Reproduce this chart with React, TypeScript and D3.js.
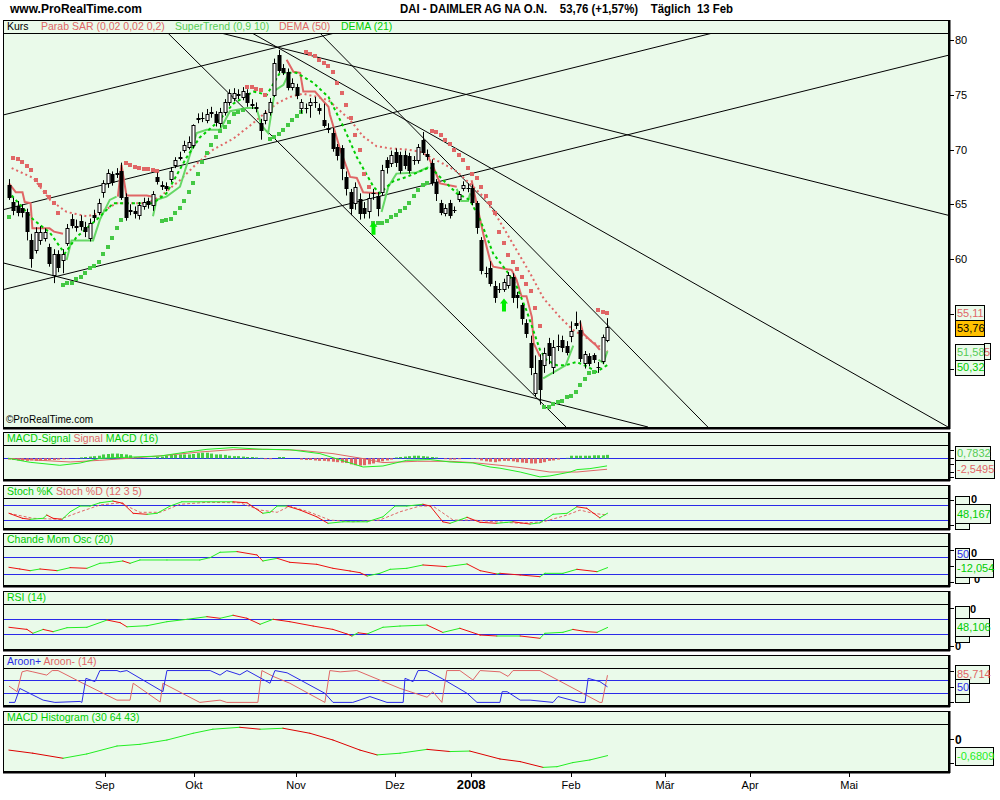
import React from "react";
import * as d3 from "d3";

// ---------------- DATA ----------------
const opens = [
  66.8,65.2,64.8,64.7,64.3,61.7,60.8,61.7,61.9,61.1,
  58.5,60.5,59.9,61.5,63.7,62.9,63.5,62.9,61.9,64.0,
  64.3,66.1,66.9,67.8,67.9,68.0,65.7,64.4,64.4,64.0,
  64.8,65.3,64.9,67.5,66.8,66.7,67.3,68.6,69.2,70.0,
  70.2,70.4,72.8,72.9,72.7,73.3,73.2,72.4,73.4,74.3,
  74.7,75.0,74.8,75.2,74.2,73.8,72.4,72.7,73.4,75.0,
  78.6,77.4,77.1,75.7,75.7,73.8,73.8,74.1,74.3,73.8,
  72.7,71.9,71.5,70.2,70.1,67.5,66.1,65.1,65.5,64.7,
  64.4,66.0,65.8,66.1,69.0,68.8,69.8,69.5,69.5,69.4,
  69.0,69.0,70.9,69.6,68.8,67.0,65.1,64.2,65.1,64.5,
  65.5,66.5,66.5,66.5,65.1,61.7,58.7,59.2,57.5,57.3,
  57.3,57.6,58.4,56.7,55.8,54.2,52.3,47.8,50.8,50.3,
  52.3,50.1,52.1,52.6,52.1,53.0,54.2,53.5,50.5,51.1,
  51.2,50.1,50.7,52.6,
];
const closes = [
  65.7,64.5,64.3,64.3,62.6,60.1,62.5,62.5,62.5,59.6,
  60.5,59.3,60.5,62.8,63.1,63.0,63.0,62.6,63.3,63.8,
  65.1,66.9,67.9,67.0,67.8,65.7,63.8,64.5,64.2,64.9,
  65.2,65.0,65.9,67.1,66.7,66.5,68.0,69.0,69.3,70.4,
  70.7,72.2,72.9,72.9,73.2,73.4,72.5,73.4,74.3,75.2,
  75.2,75.1,75.3,74.3,74.1,73.9,71.8,73.3,74.3,77.9,
  77.3,77.1,75.7,76.1,75.0,74.3,73.8,74.3,74.3,73.6,
  72.2,72.0,70.1,69.5,68.3,66.5,64.7,66.6,64.2,64.2,
  65.6,66.0,64.7,68.1,68.4,69.5,68.9,68.1,68.6,68.1,
  69.0,70.2,69.8,69.4,67.0,66.0,64.3,64.7,64.0,64.5,
  65.9,66.8,66.5,65.2,62.9,59.0,58.7,57.8,56.5,57.3,
  57.9,58.5,56.5,56.5,54.6,53.2,50.1,49.6,48.1,51.4,
  51.2,52.0,52.1,52.0,51.5,53.4,54.0,51.0,51.3,50.5,
  50.9,50.1,52.9,53.76,
];
const highs = [
  67.3,65.6,65.3,65.0,64.6,62.3,62.9,63.0,62.8,61.4,
  60.9,60.8,60.9,63.2,64.1,63.6,64.0,63.4,63.7,64.5,
  65.5,67.2,68.2,68.0,68.3,68.8,66.0,65.0,64.8,65.2,
  65.6,65.6,66.2,67.9,67.1,67.0,68.4,69.3,69.8,70.8,
  71.2,72.3,73.3,73.4,73.7,73.9,73.5,73.8,74.6,75.5,
  75.6,75.5,75.7,75.5,74.6,74.3,72.8,73.6,74.7,78.3,
  79.1,77.8,77.4,76.5,76.0,74.6,74.2,74.7,74.8,74.2,
  74.2,72.4,72.0,70.5,70.4,68.0,66.4,67.0,66.0,65.2,
  66.0,66.4,66.1,68.6,69.3,69.9,70.1,69.8,69.9,69.7,
  69.4,70.5,71.6,70.0,69.1,67.3,65.4,65.0,65.4,64.8,
  66.2,67.1,66.9,66.8,65.3,62.0,59.3,59.8,58.0,57.8,
  58.2,58.8,58.7,57.0,56.0,54.5,53.0,51.2,51.3,51.9,
  52.8,52.6,53.1,53.0,52.5,54.3,55.2,54.4,51.6,51.4,
  51.4,50.6,53.1,54.6,
];
const lows = [
  65.4,64.0,63.9,63.8,61.7,59.2,60.5,61.3,61.6,59.3,
  57.8,58.8,58.7,61.2,62.8,62.5,62.6,62.0,61.6,63.4,
  64.0,65.6,66.5,66.7,67.4,65.4,63.5,64.0,63.7,63.6,
  64.5,64.6,64.4,66.8,66.3,66.2,67.0,68.3,69.0,69.7,
  70.0,70.1,72.4,72.5,72.4,72.9,72.1,72.0,73.1,74.0,
  74.4,74.6,74.5,73.9,73.7,73.4,70.9,72.3,73.1,74.8,
  77.0,76.8,75.4,75.4,74.6,73.3,73.3,72.9,73.8,73.2,
  72.0,71.5,69.8,69.0,67.2,65.8,64.0,64.5,63.6,63.7,
  63.7,65.4,63.9,65.8,67.8,68.4,68.4,67.8,68.2,67.8,
  68.6,68.7,69.5,69.0,66.7,65.3,64.0,63.9,63.7,64.2,
  65.2,66.2,66.1,64.9,62.3,58.6,58.3,57.5,56.0,56.9,
  57.0,57.3,56.0,55.5,54.0,52.8,49.4,47.4,46.7,49.6,
  50.4,49.5,51.6,51.5,51.2,52.4,53.6,50.6,50.0,50.2,
  50.5,49.6,50.4,52.4,
];
const sar = [
  63.8,69.2,69.1,68.9,68.5,68.1,67.2,66.8,66.1,65.7,
  65.1,64.2,57.6,57.8,57.8,58.2,58.4,58.7,59.2,59.4,
  59.7,60.5,61.1,61.9,62.8,63.6,68.8,68.6,68.4,68.3,
  68.2,68.2,68.1,68.0,63.5,63.6,63.7,64.2,64.7,65.3,
  66.1,66.9,67.8,68.9,69.7,70.4,71.1,71.7,72.1,72.5,
  73.2,73.4,73.6,75.7,75.7,75.5,75.4,75.0,71.0,71.1,
  71.4,71.8,72.2,72.7,73.1,73.4,78.9,78.7,78.5,78.2,
  77.9,77.6,77.1,76.1,75.2,74.1,72.9,71.3,70.0,67.8,
  66.6,63.3,63.3,63.3,63.5,63.8,64.0,64.4,64.7,65.1,
  65.8,66.3,66.8,66.9,71.7,71.6,71.3,70.9,70.5,70.0,
  69.5,69.0,68.3,67.8,67.4,66.6,65.8,65.1,64.2,62.5,
  61.5,60.4,59.7,59.1,58.4,57.7,57.1,55.5,53.9,46.5,
  46.5,46.8,46.9,47.0,47.4,47.5,47.9,48.5,49.0,49.6,
  49.7,55.3,55.2,55.1,
];
const dema50: [number, number][] = [
  [0.6,68.3],[5.4,67.4],[9.1,65.4],[12.8,64.3],[17.3,63.9],[20.2,64.2],[23.9,65.1],[27.6,65.1],
  [30.6,65.1],[33.6,65.7],[38,67.2],[41.7,68.7],[45.4,70.0],[49.9,71.0],[53.6,72.2],[56.5,73.2],
  [59.5,74.2],[62.4,74.8],[65.4,75.1],[68.4,74.8],[71,74.5],[75.8,72.7],[78.7,71.2],[81.7,70.3],
  [84.7,70.1],[88.4,70.0],[91.3,69.8],[93.6,69.3],[96.5,68.7],[99.5,68.0],[102.4,66.9],[105.4,65.7],
  [108.4,63.9],[112.1,61.3],[115.8,58.7],[118.8,56.4],[122.4,54.7],[125.4,53.5],[128.4,52.8],
  [131.3,52.0],[133,51.55],
];
const dema21: [number, number][] = [
  [0.6,65.8],[5.4,63.6],[9.1,62.4],[12.4,60.5],[15,62.0],[19.5,63.6],[23.2,65.1],[27.6,65.1],
  [32,65.1],[35,66.0],[39.5,69.3],[42.4,71.1],[46.1,72.4],[49.9,74.2],[54.3,75.3],[57.3,75.0],
  [60.2,77.0],[63.9,77.0],[67.6,76.1],[71,74.8],[74.3,72.1],[77.3,69.3],[81,66.6],[82.4,66.0],
  [85.4,67.1],[88.4,67.5],[91.3,68.0],[93.6,68.4],[96.5,67.2],[99.5,66.0],[102.4,65.4],[104.7,63.6],
  [107.6,60.5],[110.6,58.9],[112.8,57.5],[115,55.3],[116.5,53.5],[118,51.7],[119.4,50.8],
  [121.7,50.3],[123.7,50.3],[126.1,50.6],[128.4,50.2],[130.6,49.7],[133,50.32],
];
const superTrendRed: [number, number][][] = [
  [[0,66.9],[1.5,66.1],[3,66.1],[3.5,65.2],[4.8,65.1],[5.2,62.8],[9,62.8],[10,62.5],[12,62.3]],
  [[24.2,65.7],[25,68.6],[26.1,65.8],[30.6,65.8],[31.7,65.7]],
  [[61.7,78.2],[63.2,77.1],[64.7,77.0],[65.4,75.3],[68,75.3],[69.9,74.4],[71,73.9],[71.3,73.2],
   [73.6,70.0],[75.8,67.5],[77.3,67.4],[78.7,66.1],[81.7,66.0],[82.4,66.0]],
  [[92.8,69.6],[94.3,68.4],[95.8,66.9],[99.5,66.6]],
  [[102.8,67.2],[103.9,65.1],[105.4,62.3],[106.9,59.9],[107.6,59.3],[111.7,59.0],[112.8,58.1],
   [113.9,56.6],[115,56.6],[116.2,54.7],[116.6,52.3],[117.3,51.7],[118,51.1]],
  [[126.9,54.3],[127.6,53.2],[129.1,52.6],[130.5,52.1],[131.3,51.7]],
];
const superTrendGreen: [number, number][][] = [
  [[12.8,59.9],[13.9,61.7],[18.7,61.7],[20.2,63.6],[22.4,65.4],[23.9,65.7]],
  [[32,63.9],[32.8,65.4],[35,65.7],[38,66.6],[41.7,71.5],[43.9,71.8],[46.9,71.8],[49.1,73.5],
   [52.8,73.8],[55,73.8],[56.1,72.2],[57.6,71.5],[59.1,75.4],[61,75.9],[62,76.8]],
  [[82.8,64.3],[84.3,66.6],[86.1,67.8],[90.6,67.9],[93.2,68.4]],
  [[99.5,66.4],[100.5,65.3],[102,65.3],[102.5,66.0]],
  [[118.7,49.1],[120.8,49.6],[123.7,50.3],[125.4,52.1]],
  [[131,50.8],[132.1,50.5],[133,51.58]],
];
const buyArrows: [number, number][] = [[81, 63.4], [110, 56.4]];
// trend lines: [index1, price1, index2, price2]
const trendLines: [number, number, number, number][] = [
  [-1.33,73.15,72.4,80.64],
  [-1.33,64.5,156.4,80.64],
  [-1.33,57.2,208.67,78.6],
  [47.1,80.64,208.67,64.0],
  [54.0,80.64,208.67,44.66],
  [35.3,80.64,123.8,44.66],
  [69.1,80.64,155.3,44.66],
  [-1.33,59.65,142.0,44.66],
];
const priceTicks = [80, 75, 70, 65, 60, 55, 50];

const macdLine: [number, number][] = [
  [-0.2,0],[4.7,-0.93],[11.3,-1.63],[15.8,-1.1],[20.2,0],[27.6,0.3],[33.6,0.53],[39.6,1.47],
  [44,2.09],[49.8,2.49],[56.4,2.09],[62.4,2.0],[69.1,1.09],[75.1,-0.86],[78.7,-2.02],[83.1,-1.79],
  [88.4,-0.47],[93.6,-0.3],[98,-0.86],[103.1,-1.09],[106.9,-2.02],[109.1,-2.3],[113.6,-3.19],
  [118,-4.33],[120.2,-4.1],[124.7,-3.19],[126.2,-2.63],[129.1,-2.4],[132.9,-1.77],
];
const macdSignal: [number, number][] = [
  [-0.2,0],[6.9,-0.47],[13.6,-0.86],[20.2,-0.47],[27.6,0.07],[35.1,0.7],[42.4,1.47],[49.8,2.02],
  [57.3,2.09],[64.7,1.86],[72,1.09],[78.7,-0.07],[83.1,-1.0],[90.7,-0.7],[98,-0.7],[103.1,-1.0],
  [109.1,-1.63],[113.6,-2.16],[120.2,-3.19],[126.2,-3.19],[132.9,-2.55],
];
const macdBars = [
  -0.3,-0.4,-0.5,-0.6,-0.6,-0.5,-0.6,-0.6,-0.5,-0.4,-0.4,-0.3,-0.2,
  -0.1,0,0.05,
  0.2,0.3,0.4,0.5,0.6,0.9,1.0,1.1,1.1,1.0,0.9,0.7,0.3,
  0.1,0.05,0.05,0.1,
  0.3,0.4,0.6,0.8,0.8,0.9,0.9,0.9,1.0,1.2,1.3,1.3,1.1,0.9,0.9,0.8,0.6,0.5,0.5,0.4,0.3,0.3,0.2,0.1,
  -0.2,-0.2,0,0.3,0.3,0,0,0,
  -0.3,-0.4,-0.4,-0.5,-0.6,-0.6,-0.7,-0.8,-0.9,-1.0,-1.1,-1.4,-1.6,-1.7,-1.6,-1.4,-1.2,-0.9,-0.7,-0.5,-0.3,
  0.2,0.3,0.4,0.5,0.6,0.6,0.5,0.4,0.3,0.2,
  0,-0.2,-0.3,-0.3,-0.2,0,0,-0.1,-0.2,
  -0.5,-0.7,-0.8,-0.9,-0.7,-0.6,-0.6,-0.7,-0.9,-1.0,-1.1,-1.2,-1.2,-1.1,-0.9,-0.6,-0.5,-0.3,
  0,0.1,
  0.6,0.6,0.6,0.6,0.6,0.7,0.7,0.7,0.8,
];
const stochK: [number, number][] = [
  [0,48],[3,28],[4.7,24],[7.6,28],[8.4,41],[9.8,28],[11.8,24],[13.6,54],[15.8,77],[18,77],[20.2,90],
  [23.1,97],[25.3,88],[27.6,48],[30.7,44],[32.9,48],[35.8,77],[38.4,94],[49.8,94],[52.9,90],[56.4,48],
  [58,52],[59.6,77],[61.8,77],[64.7,61],[68.4,34],[70.9,8],[74.2,14],[79.6,14],[83.1,34],[85.8,77],
  [88.4,77],[92,84],[93.6,77],[96.4,14],[98,8],[101.8,32],[104.7,12],[108.4,8],[112,14],[115.8,5],
  [118,10],[120.9,44],[124,48],[126.2,74],[128.4,68],[131.3,30],[133,48.17],
];
const stochD: [number, number][] = [
  [0,48],[5.3,28],[11.3,24],[15.8,54],[20.2,81],[24.7,90],[29.1,52],[33.6,52],[38,84],[44,92],
  [51.3,90],[55.8,61],[59.6,52],[62.4,77],[66.9,52],[71.3,21],[76.4,14],[82.4,21],[86.9,54],
  [91.3,77],[94.2,77],[98.7,21],[103.1,21],[108.4,14],[113.6,8],[118.7,14],[124,41],[126.9,61],
  [129.8,48],[133,41],
];
const chande: [number, number][] = [
  [0,-10],[2.4,-20],[4.7,-30],[6.9,-20],[10.7,-30],[13.6,-12],[17.3,-16],[20.2,14],[22.4,18],
  [25.3,28],[26.9,14],[29.1,34],[35.1,34],[42.4,34],[44.7,48],[46.9,80],[50.7,84],[55.1,64],
  [56.4,28],[59.6,44],[62.4,20],[68.4,8],[72,-16],[75.8,-32],[78,-42],[79.6,-62],[82.4,-46],
  [84.7,-22],[88.4,-16],[92,4],[97.3,-6],[101.8,10],[104.7,-30],[108.4,-50],[109.1,-46],
  [113.6,-56],[118,-66],[119.1,-46],[123.1,-46],[126.2,-22],[130.7,-36],[133,-12.05],
];
const rsi: [number, number][] = [
  [0,48.7],[4,43],[5.3,32.7],[7.6,43],[9.8,37],[12.9,47.6],[17.3,48.7],[21.8,68],[24.7,61],
  [26.2,50],[30.7,53],[35.1,63.6],[39.6,70],[44,77],[46.9,72.7],[49.8,80.7],[52.9,72.7],[55.8,56.7],
  [58.7,70],[62.4,63.6],[67.6,52],[72,43],[75.1,31],[76.2,25.5],[77.6,34],[79.6,31],[83.1,48.7],
  [86.9,52],[92.9,54.7],[96.4,35],[100.2,46],[104.7,28],[108.4,25.5],[113.6,25.5],[118,19.3],
  [119.1,32.7],[123.1,35.3],[125.3,43],[128.4,37],[130.7,35.3],[133,48.1],
];
const aroonUp: [number, number][] = [
  [0,2],[1.3,2],[2.4,45],[7.6,9],[10.2,2],[15.8,5],[16.2,2],[17.1,76],[19.1,66],[20.2,100],[24,100],
  [24.7,96],[26.2,100],[34.2,35],[35.1,100],[44.7,100],[46.9,86],[48.4,100],[51.3,87],[52.9,100],
  [58,61],[59.1,100],[61.8,93],[70.2,30],[72,2],[76.4,2],[80.2,20],[84,2],[87.6,2],[88,76],[89.8,66],
  [90.9,100],[92.9,100],[96.4,74],[101.8,30],[104,2],[109.1,2],[109.6,35],[110.7,35],[113.6,9],
  [115.8,9],[120.9,2],[122,20],[126.9,2],[128,2],[128.7,76],[131.3,66],[133,50],
];
const aroonDown: [number, number][] = [
  [0,52],[1.8,35],[2.9,96],[4,100],[5.3,96],[8.4,86],[9.6,100],[10.9,100],[16.4,61],[20.2,35],
  [24,9],[26.9,9],[27.6,61],[33.6,3],[34.2,61],[42.4,2],[46.9,9],[48.4,2],[55.3,2],[56.2,100],
  [58.7,82],[62.4,61],[70.2,2],[71.3,100],[73.6,96],[77.3,100],[86.9,45],[92.9,18],[94.2,35],
  [96.2,2],[97.3,100],[100.2,100],[103.1,71],[104.7,100],[109.1,96],[110.9,82],[112,100],[118,100],
  [131.3,2],[131.8,2],[133,85.71],
];
const macdHistLong: [number, number][] = [
  [0,-0.45],[5.3,-0.58],[12,-0.79],[17.3,-0.61],[24,-0.28],[29.1,-0.21],[35.1,-0.03],[40.9,0.25],
  [45.3,0.42],[51.3,0.5],[55.8,0.42],[60.9,0.46],[66.9,0.25],[72,-0.03],[78,-0.45],[81.8,-0.65],
  [86.9,-0.58],[92.9,-0.42],[98,-0.51],[102.4,-0.49],[109.1,-0.82],[113.6,-0.93],[118.7,-1.17],
  [121.8,-1.14],[125.3,-0.97],[129.1,-0.86],[133,-0.68],
];
const monthLabels = ["Sep", "Okt", "Nov", "Dez", "2008", "Feb", "Mär", "Apr", "Mai"];
const monthIdx = [21.3, 41.1, 63.8, 85.8, 102.7, 124.9, 145.8, 164.7, 186.7];

// ---------------- LAYOUT ----------------
const XL = 3, XR = 948;
const BG = "#eafaea";
const RED = "#e06666";
const LGREEN = "#55cc55";
const GREEN = "#00cc00";
const BRIGHT_G = "#22ee22";
const BRIGHT_R = "#ee1111";
const BLUE = "#2a2ae8";
const FONT = "Liberation Sans, Arial, Helvetica, sans-serif";

const P = {
  main: { top: 20, hdr: 33, bottom: 427 },
  macd: { top: 432, hdr: 445, bottom: 479 },
  stoch: { top: 485, hdr: 498, bottom: 528 },
  chande: { top: 533, hdr: 546, bottom: 585 },
  rsi: { top: 591, hdr: 604, bottom: 649 },
  aroon: { top: 655, hdr: 668, bottom: 705 },
  mhist: { top: 711, hdr: 724, bottom: 771 },
};

const x = d3.scaleLinear().domain([-1.33, 208.67]).range([XL, XR]);
const yMain = d3.scaleLinear().domain([44.66, 80.64]).range([427, 33]);
const yMacd = d3.scaleLinear().domain([0, 1]).range([458.3, 454]);
const yStoch = d3.scaleLinear().domain([20, 80]).range([520.3, 505.3]);
const yChande = d3.scaleLinear().domain([-50, 50]).range([574, 557.3]);
const yRsi = d3.scaleLinear().domain([30, 70]).range([634.3, 619.3]);
const yAroon = d3.scaleLinear().domain([30, 70]).range([693.3, 680.3]);
const yMhist = d3.scaleLinear().domain([0, -1]).range([739.3, 763.3]);

type Pt = [number, number];

function Frame({ p, id }: { p: { top: number; hdr: number; bottom: number }; id: string }) {
  return (
    <g>
      <rect x={XL + 0.5} y={p.top + 0.5} width={XR - XL} height={p.bottom - p.top} fill={BG} stroke="#000" strokeWidth={1} />
      <line x1={XL} x2={XR} y1={p.hdr + 0.5} y2={p.hdr + 0.5} stroke="#000" strokeWidth={1} />
      <line x1={XL} x2={XR + 2} y1={p.bottom + 1.5} y2={p.bottom + 1.5} stroke="#000" strokeWidth={2} />
      <line x1={XR + 1.5} x2={XR + 1.5} y1={p.top} y2={p.bottom + 2} stroke="#000" strokeWidth={2} />
      <clipPath id={id}>
        <rect x={XL + 1} y={p.hdr + 1} width={XR - XL - 1} height={p.bottom - p.hdr - 1} />
      </clipPath>
    </g>
  );
}

function PolyLine({ pts, y, color, width = 1, dash }: { pts: Pt[]; y: any; color: string; width?: number; dash?: string }) {
  const gen = d3.line<Pt>().x((d) => x(d[0])).y((d) => y(d[1]));
  return <path d={gen(pts) || ""} fill="none" stroke={color} strokeWidth={width} strokeDasharray={dash} />;
}

function DirLine({ pts, y, up, down, width = 1 }: { pts: Pt[]; y: any; up: string; down: string; width?: number }) {
  const segs = [];
  for (let k = 0; k < pts.length - 1; k++) {
    const a = pts[k], b = pts[k + 1];
    segs.push(
      <line key={k} x1={x(a[0])} y1={y(a[1])} x2={x(b[0])} y2={y(b[1])} stroke={b[1] >= a[1] ? up : down} strokeWidth={width} strokeLinecap="square" />
    );
  }
  return <g>{segs}</g>;
}

function ValBox({ yc, text, color, bg = BG, x0 = 955, w, h = 16, size = 11 }: { yc: number; text: string; color: string; bg?: string; x0?: number; w?: number; h?: number; size?: number }) {
  const ww = w ?? text.length * 5.6 + 5;
  return (
    <g>
      <rect x={x0 + 0.5} y={Math.round(yc - h / 2) + 0.5} width={ww} height={h} fill={bg} stroke="#000" strokeWidth={1} />
      {text ? <text x={x0 + 2} y={yc + 4} fontSize={size} fill={color} fontFamily={FONT}>{text}</text> : null}
    </g>
  );
}

function Tick({ yv }: { yv: number }) {
  return <line x1={XR + 2} x2={XR + 6} y1={Math.round(yv) + 0.5} y2={Math.round(yv) + 0.5} stroke="#000" />;
}

export default function App() {
  return (
    <svg width={1000} height={800} style={{ position: "absolute", left: 0, top: 0, background: "#fff" }} fontFamily={FONT}>
      {/* page titles */}
      <text x={10} y={13} fontSize={12} fontWeight="bold" fill="#000">www.ProRealTime.com</text>
      <text x={400} y={13} fontSize={12} fontWeight="bold" fill="#000" style={{ whiteSpace: "pre" }} textLength={333} lengthAdjust="spacingAndGlyphs">
        {"DAI - DAIMLER AG NA O.N.    53,76 (+1,57%)    Täglich  13 Feb"}
      </text>

      {/* ---------- MAIN PANEL ---------- */}
      <Frame p={P.main} id="clipMain" />
      <text x={7} y={30} fontSize={10.5} fill="#000">Kurs</text>
      <text x={41} y={30} fontSize={10.5} fill={RED}>Parab SAR (0,02 0,02 0,2)</text>
      <text x={175} y={30} fontSize={10.5} fill={LGREEN}>SuperTrend (0,9 10)</text>
      <text x={279} y={30} fontSize={10.5} fill={RED}>DEMA (50)</text>
      <text x={341} y={30} fontSize={10.5} fill={GREEN}>DEMA (21)</text>

      <g clipPath="url(#clipMain)">
        {trendLines.map((t, k) => (
          <line key={k} x1={x(t[0])} y1={yMain(t[1])} x2={x(t[2])} y2={yMain(t[3])} stroke="#000" strokeWidth={1} />
        ))}
        <PolyLine pts={dema50} y={yMain} color={RED} width={2} dash="2,3" />
        {superTrendRed.map((s, k) => <PolyLine key={"r" + k} pts={s} y={yMain} color={RED} width={2} />)}
        {superTrendGreen.map((s, k) => <PolyLine key={"g" + k} pts={s} y={yMain} color="#66d866" width={2} />)}
        <PolyLine pts={dema21} y={yMain} color={GREEN} width={2} dash="3,3" />
        {sar.map((s, i) => (
          <rect key={"s" + i} x={Math.round(x(i)) - 2} y={Math.round(yMain(s)) - 2} width={4} height={4} fill={s > closes[i] ? RED : "#44c844"} />
        ))}
        {closes.map((c, i) => {
          const o = opens[i];
          const cx = Math.round(x(i)) + 0.5;
          const yt = Math.round(yMain(Math.max(o, c)));
          const yb = Math.round(yMain(Math.min(o, c)));
          return (
            <g key={"c" + i}>
              <line x1={cx} x2={cx} y1={yMain(highs[i])} y2={yMain(lows[i])} stroke="#000" strokeWidth={1} />
              <rect x={cx - 1.5} y={yt + 0.5} width={3} height={Math.max(0.01, yb - yt)} fill={c >= o ? "#fff" : "#000"} stroke="#000" strokeWidth={1} />
            </g>
          );
        })}
        {buyArrows.map((a, k) => {
          const cx = x(a[0]);
          const ty = yMain(a[1]);
          return (
            <path key={"a" + k} d={`M${cx},${ty} L${cx + 4},${ty + 5} L${cx + 2},${ty + 5} L${cx + 2},${ty + 13} L${cx - 2},${ty + 13} L${cx - 2},${ty + 5} L${cx - 4},${ty + 5} Z`} fill="#00ee00" />
          );
        })}
      </g>
      <text x={6} y={423} fontSize={10} fill="#000">©ProRealTime.com</text>

      {/* main axis */}
      {priceTicks.map((t) => (
        <g key={"pt" + t}>
          <Tick yv={yMain(t)} />
          {t >= 60 ? <text x={955} y={yMain(t) + 4} fontSize={11} fill="#000">{t}</text> : null}
        </g>
      ))}
      <ValBox yc={312.6} text="55,11" color={RED} w={29} h={15} />
      <ValBox yc={327.8} text="53,76" color="#000" bg="#ffc000" w={29} h={16} />
      <rect x={984.5} y={343.5} width={6} height={16} fill={BG} stroke="#000" />
      <text x={984} y={356} fontSize={11} fill={RED}>5</text>
      <ValBox yc={351.5} text="51,58" color={LGREEN} w={29} h={16} />
      <ValBox yc={367} text="50,32" color={GREEN} w={29} h={15} />

      {/* ---------- MACD ---------- */}
      <Frame p={P.macd} id="clipMacd" />
      <text x={7} y={442} fontSize={10.5}>
        <tspan fill={GREEN}>MACD-Signal </tspan>
        <tspan fill={RED}>Signal </tspan>
        <tspan fill={GREEN}>MACD (16)</tspan>
      </text>
      <g clipPath="url(#clipMacd)">
        <line x1={XL} x2={XR} y1={458.5} y2={458.5} stroke={BLUE} />
        {macdBars.map((v, i) =>
          v === 0 ? null : (
            <rect key={i} x={Math.round(x(i)) - 1} width={3} y={Math.min(yMacd(v), yMacd(0))} height={Math.abs(yMacd(v) - yMacd(0))} fill={v > 0 ? "#44cc44" : RED} />
          )
        )}
        <PolyLine pts={macdSignal} y={yMacd} color={RED} width={1} />
        <PolyLine pts={macdLine} y={yMacd} color={BRIGHT_G} width={1} />
      </g>
      {[450, 458, 464, 472, 477].map((t) => <Tick key={t} yv={t} />)}
      <ValBox yc={468.5} text="-2,5495" color={RED} w={39} h={18} />
      <ValBox yc={452.5} text="0,7832" color={LGREEN} w={35} h={14} />

      {/* ---------- STOCH ---------- */}
      <Frame p={P.stoch} id="clipStoch" />
      <text x={7} y={495} fontSize={10.5}>
        <tspan fill={GREEN}>Stoch %K </tspan>
        <tspan fill={RED}>Stoch %D (12 3 5)</tspan>
      </text>
      <g clipPath="url(#clipStoch)">
        <line x1={XL} x2={XR} y1={505.5} y2={505.5} stroke={BLUE} />
        <line x1={XL} x2={XR} y1={520.5} y2={520.5} stroke={BLUE} />
        <PolyLine pts={stochD} y={yStoch} color={RED} width={1} dash="3,2" />
        <DirLine pts={stochK} y={yStoch} up={BRIGHT_G} down={BRIGHT_R} width={1} />
      </g>
      {[500, 525].map((t) => <Tick key={t} yv={t} />)}
      <text x={971} y={503} fontSize={11} fontWeight="bold">0</text>
      <ValBox yc={500} text="" color={BLUE} w={14} h={9} />
      <ValBox yc={525.5} text="" color={BLUE} w={14} h={7} />
      <ValBox yc={513.5} text="48,167" color={GREEN} w={35} h={19} />

      {/* ---------- CHANDE ---------- */}
      <Frame p={P.chande} id="clipChande" />
      <text x={7} y={543} fontSize={10.5} fill={GREEN}>Chande Mom Osc (20)</text>
      <g clipPath="url(#clipChande)">
        <line x1={XL} x2={XR} y1={557.5} y2={557.5} stroke={BLUE} />
        <line x1={XL} x2={XR} y1={574.5} y2={574.5} stroke={BLUE} />
        <DirLine pts={chande} y={yChande} up={BRIGHT_G} down={BRIGHT_R} width={1} />
      </g>
      {[549.5, 565.5, 582].map((t) => <Tick key={t} yv={t} />)}
      <text x={971} y={557} fontSize={11} fontWeight="bold">0</text>
      <text x={974} y={583} fontSize={11} fontWeight="bold">0</text>
      <ValBox yc={554} text="50" color={BLUE} w={14} h={13} />
      <ValBox yc={579.5} text="" color={BLUE} w={14} h={6} />
      <ValBox yc={568} text="-12,054" color={GREEN} w={38} h={18} />

      {/* ---------- RSI ---------- */}
      <Frame p={P.rsi} id="clipRsi" />
      <text x={7} y={601} fontSize={10.5} fill={GREEN}>RSI (14)</text>
      <g clipPath="url(#clipRsi)">
        <line x1={XL} x2={XR} y1={619.5} y2={619.5} stroke={BLUE} />
        <line x1={XL} x2={XR} y1={634.5} y2={634.5} stroke={BLUE} />
        <DirLine pts={rsi} y={yRsi} up={BRIGHT_G} down={BRIGHT_R} width={1} />
      </g>
      {[608, 645.5].map((t) => <Tick key={t} yv={t} />)}
      <text x={970} y={613} fontSize={11} fontWeight="bold">0</text>
      <text x={955} y={650} fontSize={11} fontWeight="bold">0</text>
      <ValBox yc={611.5} text="" color={BLUE} w={14} h={12} />
      <ValBox yc={639} text="" color={BLUE} w={14} h={6} />
      <ValBox yc={627} text="48,106" color={GREEN} w={34} h={18} />

      {/* ---------- AROON ---------- */}
      <Frame p={P.aroon} id="clipAroon" />
      <text x={7} y={665} fontSize={10.5}>
        <tspan fill={BLUE}>Aroon+ </tspan>
        <tspan fill={RED}>Aroon- (14)</tspan>
      </text>
      <g clipPath="url(#clipAroon)">
        <line x1={XL} x2={XR} y1={680.5} y2={680.5} stroke={BLUE} />
        <line x1={XL} x2={XR} y1={693.5} y2={693.5} stroke={BLUE} />
        <PolyLine pts={aroonDown} y={yAroon} color={RED} width={1} />
        <PolyLine pts={aroonUp} y={yAroon} color={BLUE} width={1} />
      </g>
      {[670.5, 686.5, 701.5].map((t) => <Tick key={t} yv={t} />)}
      <ValBox yc={697.5} text="" color={BLUE} w={14} h={9} />
      <ValBox yc={674} text="85,714" color={RED} w={34} h={18} />
      <ValBox yc={686.5} text="50" color={BLUE} w={14} h={15} />

      {/* ---------- MACD HISTOGRAM ---------- */}
      <Frame p={P.mhist} id="clipMhist" />
      <text x={7} y={721} fontSize={10.5} fill={GREEN}>MACD Histogram (30 64 43)</text>
      <g clipPath="url(#clipMhist)">
        <DirLine pts={macdHistLong} y={yMhist} up={BRIGHT_G} down="#dd0000" width={1} />
      </g>
      {[739.3, 763.3].map((t) => <Tick key={t} yv={t} />)}
      <text x={955} y={744} fontSize={12} fontWeight="bold">0</text>
      <ValBox yc={756} text="-0,6809" color={BRIGHT_G} w={38} h={18} />

      {/* ---------- TIME AXIS ---------- */}
      {monthIdx.map((m, k) => (
        <g key={"m" + k}>
          <line x1={Math.round(x(m)) + 0.5} x2={Math.round(x(m)) + 0.5} y1={773} y2={777} stroke="#000" />
          <text x={x(m)} y={789} fontSize={monthLabels[k] === "2008" ? 13 : 11} fontWeight={monthLabels[k] === "2008" ? "bold" : "normal"} textAnchor="middle" fill="#000">
            {monthLabels[k]}
          </text>
        </g>
      ))}
    </svg>
  );
}
